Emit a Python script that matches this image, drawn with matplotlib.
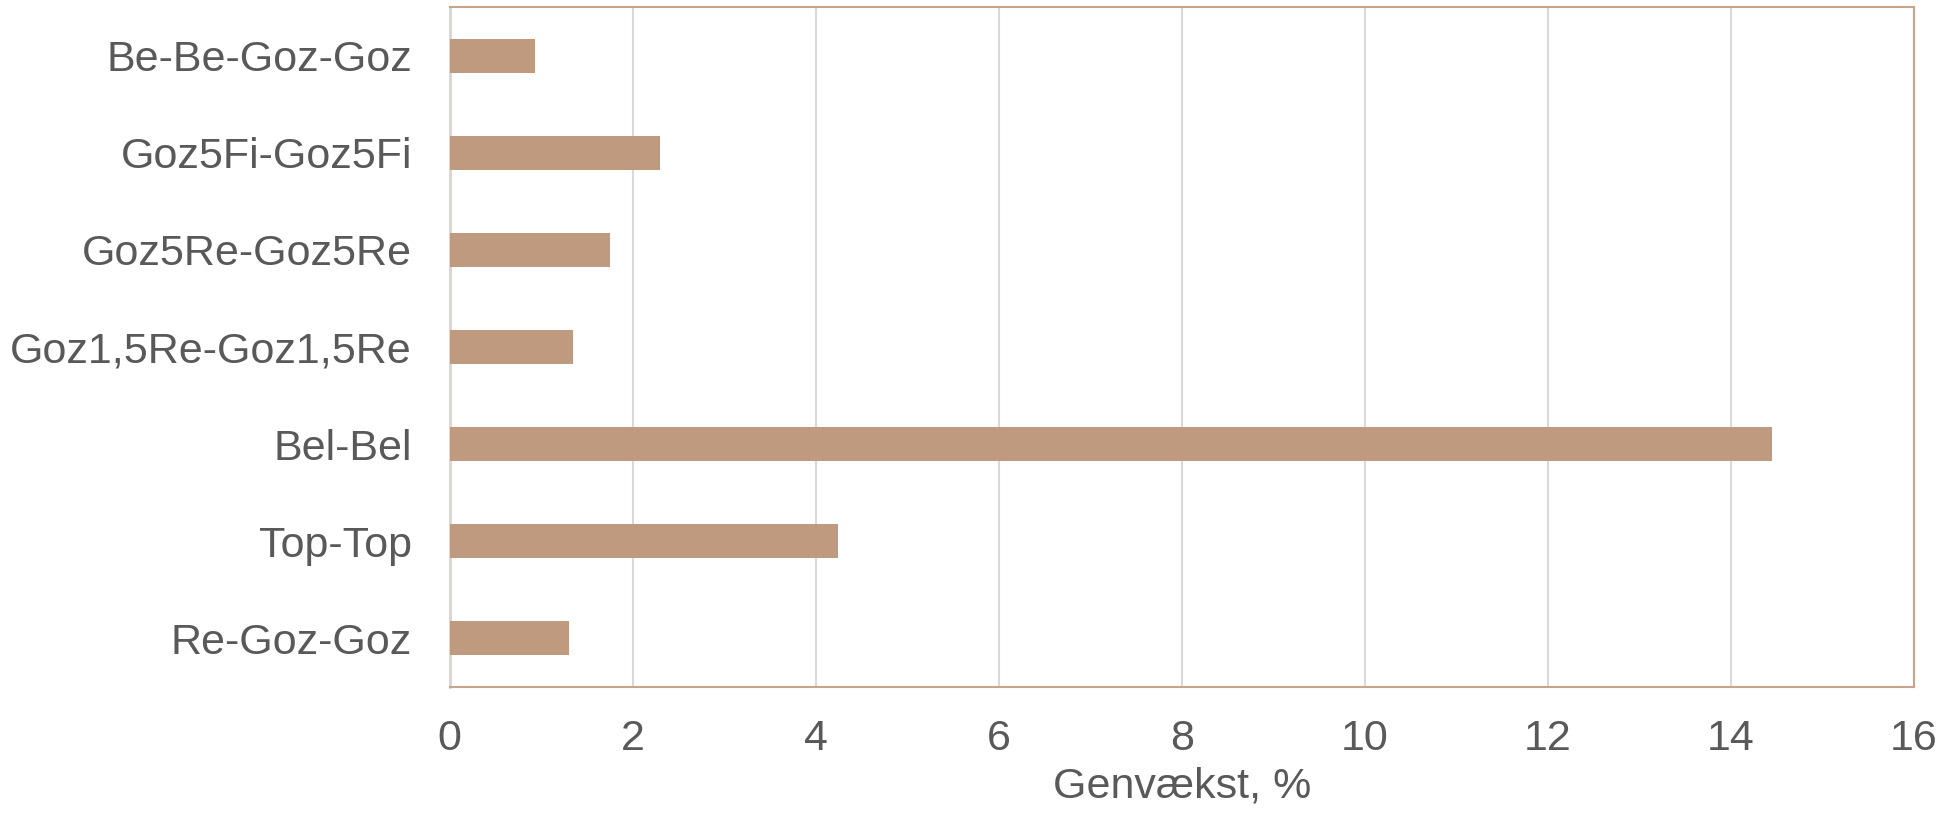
import matplotlib
matplotlib.use("Agg")
import matplotlib.pyplot as plt

categories = ["Be-Be-Goz-Goz", "Goz5Fi-Goz5Fi", "Goz5Re-Goz5Re", "Goz1,5Re-Goz1,5Re",
              "Bel-Bel", "Top-Top", "Re-Goz-Goz"]
values = [0.93, 2.30, 1.75, 1.35, 14.45, 4.24, 1.30]
xticks = [0, 2, 4, 6, 8, 10, 12, 14, 16]

bar_color = "#BF9A7F"
edge_color = "#C8A48A"
text_color = "#595959"

plt.rcParams["font.family"] = ["Liberation Sans", "DejaVu Sans"]

fig = plt.figure(figsize=(19.46, 8.16), dpi=100)
ax = fig.add_axes([0.231, 0.1585, 0.7526, 0.8325])

pos = list(range(len(categories)))[::-1]
ax.barh(pos, values, height=0.35, color=bar_color, zorder=3)

ax.set_xlim(0, 16)
ax.set_ylim(-0.5, len(categories) - 0.5)
ax.set_xticks(xticks)
ax.set_xticklabels([str(t) for t in xticks])
ax.set_yticks(pos)
ax.set_yticklabels(categories)
ax.tick_params(axis="both", length=0, labelsize=31, colors=text_color)
ax.tick_params(axis="x", pad=23)
ax.tick_params(axis="y", pad=27)
ax.grid(axis="x", color="#D9D9D9", linewidth=1.5, zorder=0)

for side in ["top", "right", "bottom"]:
    ax.spines[side].set_color(edge_color)
    ax.spines[side].set_linewidth(1.5)
ax.spines["left"].set_color("#D9D4D0")
ax.spines["left"].set_linewidth(2)

ax.set_xlabel("Genvækst, %", fontsize=31, color=text_color, labelpad=6)

fig.savefig("out.png", dpi=100)
